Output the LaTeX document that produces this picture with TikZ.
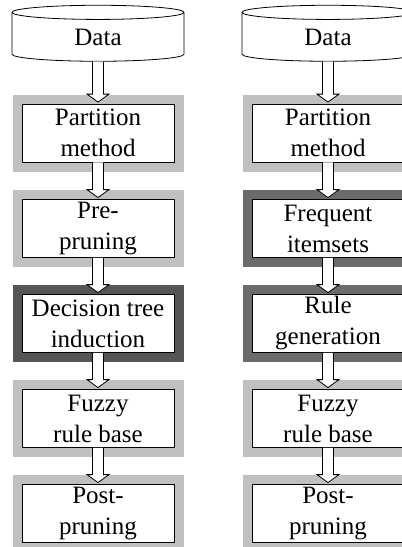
\documentclass[tikz,border=0pt]{standalone}
\usepackage{fontspec}
\setmainfont{Liberation Serif}
\usetikzlibrary{shapes.geometric,calc}

\definecolor{lightframe}{HTML}{C0C0C0}
\definecolor{darkframe}{HTML}{555555}
\definecolor{midframe}{HTML}{6B6B6B}

\tikzset{
  stage/.style={draw, line width=0.8pt, fill=white, inner sep=0pt,
    minimum width=152pt, minimum height=58pt, align=center,
    font=\fontsize{25}{31}\selectfont,
    preaction={draw=#1, line width=19pt}},
  stage/.default=lightframe,
  database/.style={cylinder, shape border rotate=90, draw, line width=0.8pt,
    fill=white, inner sep=0pt, minimum width=172pt, minimum height=56pt,
    aspect=0.3, font=\fontsize{25}{31}\selectfont}
}

% hollow arrow from one stage to the next
\newcommand{\blockarrow}[2]{%
  \draw[line width=0.8pt, fill=white] ($(#1.south)+(-5.5,0)$)
    -- ($(#2.north)+(-5.5,9.5)$) -- ($(#2.north)+(-11,9.5)$)
    -- ($(#2.north)+(0,1.5)$) -- ($(#2.north)+(11,9.5)$)
    -- ($(#2.north)+(5.5,9.5)$) -- ($(#1.south)+(5.5,0)$);}

\begin{document}
\begin{tikzpicture}[x=1pt,y=1pt]
\path[use as bounding box, clip] (0,0) rectangle (402,-547);

% Decision tree
\node[database] (dataL) at (98,-37) {Data};
\foreach \name/\y/\col/\txt in {
    partL/133/lightframe/{Partition\\method},
    preL/228.5/lightframe/{Pre-\\pruning},
    treeL/323.5/darkframe/{Decision tree\\induction},
    fuzzyL/418.5/lightframe/{Fuzzy\\rule base},
    postL/513.5/lightframe/{Post-\\pruning}}
  \node[stage=\col] (\name) at (98,-\y) {\txt};

\foreach \a/\b in {dataL/partL, partL/preL, preL/treeL, treeL/fuzzyL, fuzzyL/postL}
  \blockarrow{\a}{\b};

% Association rules
\begin{scope}[xshift=230]
\node[database] (dataR) at (98,-37) {Data};
\foreach \name/\y/\col/\txt in {
    partR/133/lightframe/{Partition\\method},
    freqR/228.5/midframe/{Frequent\\itemsets},
    ruleR/323.5/midframe/{Rule\\generation},
    fuzzyR/418.5/lightframe/{Fuzzy\\rule base},
    postR/513.5/lightframe/{Post-\\pruning}}
  \node[stage=\col] (\name) at (98,-\y) {\txt};

\foreach \a/\b in {dataR/partR, partR/freqR, freqR/ruleR, ruleR/fuzzyR, fuzzyR/postR}
  \blockarrow{\a}{\b};
\end{scope}
\end{tikzpicture}
\end{document}
